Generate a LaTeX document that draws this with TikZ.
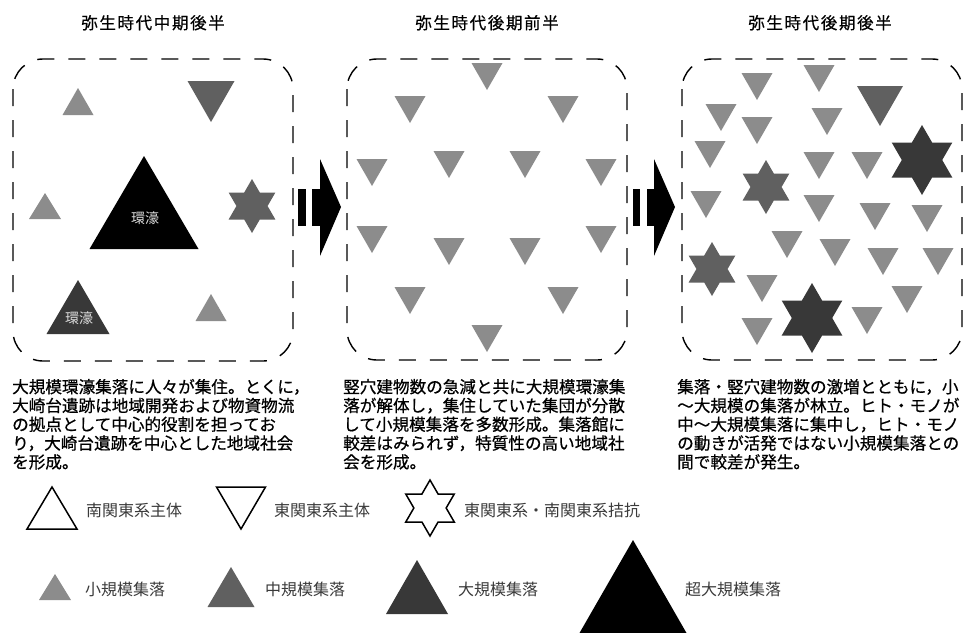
\documentclass[tikz,border=0pt]{standalone}
\usepackage{fontspec}
\newfontfamily\jp{Noto Sans CJK JP}
\newfontfamily\jpb[FakeBold=0.6]{Noto Sans CJK JP}
\newfontfamily\jpt[LetterSpace=10,FakeBold=0.5]{Noto Sans CJK JP}
\definecolor{lg}{HTML}{8C8C8C}
\definecolor{mg}{HTML}{606060}
\definecolor{dg}{HTML}{383838}
\definecolor{lt}{HTML}{3A3A3A}
\definecolor{wt}{HTML}{DDDDDD}
% up triangle: apex x, apex y, width, height, style
\newcommand\upTri[5]{\path[#5] ({#1-#3/2},{#2+#4}) -- ({#1},{#2}) -- ({#1+#3/2},{#2+#4}) -- cycle;}
% down triangle: center x, top y, width, height, style
\newcommand\dnTri[5]{\path[#5] ({#1-#3/2},{#2}) -- ({#1+#3/2},{#2}) -- ({#1},{#2+#4}) -- cycle;}
% six-pointed star: center x, center y, outer radius, style
\newcommand\hexStar[4]{\path[#4] ({#1},{#2-#3}) -- ({#1+0.2887*#3},{#2-0.5*#3}) -- ({#1+0.8660*#3},{#2-0.5*#3}) -- ({#1+0.5774*#3},{#2}) -- ({#1+0.8660*#3},{#2+0.5*#3}) -- ({#1+0.2887*#3},{#2+0.5*#3}) -- ({#1},{#2+#3}) -- ({#1-0.2887*#3},{#2+0.5*#3}) -- ({#1-0.8660*#3},{#2+0.5*#3}) -- ({#1-0.5774*#3},{#2}) -- ({#1-0.8660*#3},{#2-0.5*#3}) -- ({#1-0.2887*#3},{#2-0.5*#3}) -- cycle;}
\begin{document}
\begin{tikzpicture}[x=1pt,y=-1pt,
  small/.style={fill=lg},
  medium/.style={fill=mg},
  large/.style={fill=dg},
  huge/.style={fill=black},
  outl/.style={draw=black,fill=white,line width=1.5pt,line join=miter},
  panel/.style={draw=black,line width=1.4pt,dash pattern=on 17pt off 14pt,rounded corners=30pt},
  ttl/.style={font=\jpt\fontsize{16.5}{18}\selectfont,anchor=base,inner sep=0pt},
  para/.style={font=\jpb\fontsize{16.6}{18.8}\selectfont,anchor=base west,inner sep=0pt},
  leg/.style={font=\jp\fontsize{16}{18}\selectfont,text=lt,anchor=base west,inner sep=0pt},
  moat/.style={font=\jp\fontsize{14}{16}\selectfont,text=wt,anchor=base,inner sep=0pt},
  arr/.style={fill=black}]
\useasboundingbox (0,0) rectangle (968,632);
\fill[white] (0,0) rectangle (968,632);

% titles
\node[ttl] (t1) at (153,29) {弥生時代中期後半};
\node[ttl] (t2) at (487,29) {弥生時代後期前半};
\node[ttl] (t3) at (820,29) {弥生時代後期後半};

% panels
\draw[panel] (13,59) rectangle (293,361);
\draw[panel] (347,59) rectangle (627,360);
\draw[panel] (682,59) rectangle (962,360);

% arrows
\fill[arr] (298,189) rectangle (306,226);
\fill[arr] (312,189) rectangle (320,226);
\fill[arr] (320,159) -- (341,207) -- (320,256) -- cycle;
\fill[arr] (633,189) rectangle (640,226);
\fill[arr] (647,189) rectangle (654,226);
\fill[arr] (654,159) -- (675,207) -- (654,256) -- cycle;

% panel 1
\upTri{78}{88}{31}{27}{small}
\dnTri{211}{81}{47}{41}{medium}
\upTri{144}{156}{109}{93}{huge}
\upTri{45}{193}{32}{26}{small}
\upTri{78}{280}{63}{54}{large}
\upTri{211}{294}{31}{27}{small}
\hexStar{252}{206}{27}{medium}
\node[moat] (m1) at (145,223) {環濠};
\node[moat] (m2) at (79,323) {環濠};

% panel 2
\foreach \x/\y in {487/63,410/96,563/96,372/159,449/151,525/151,601/159,372/226,449/238,525/238,601/226,410/287,563/287,487/325}
  {\dnTri{\x}{\y}{31}{27}{small}}

% panel 3
\foreach \x/\y in {757/73,819/65,721/104,757/117,827/108,710/141,819/152,867/152,706/191,819/195,875/203,927/205,787/231,835/239,883/248,938/248,762/275,907/286,867/307,757/318}
  {\dnTri{\x}{\y}{31}{27}{small}}
\dnTri{880}{86}{46}{40}{medium}
\hexStar{922}{160}{35}{large}
\hexStar{766}{187}{27}{medium}
\hexStar{712}{269}{27}{medium}
\hexStar{812}{318}{35}{large}

% paragraphs
\node[para] (a1) at (12,393) {大規模環濠集落に人々が集住。とくに，};
\node[para] (a2) at (12,411.8) {大崎台遺跡は地域開発および物資物流};
\node[para] (a3) at (12,430.6) {の拠点として中心的役割を担ってお};
\node[para] (a4) at (12,449.4) {り，大崎台遺跡を中心とした地域社会};
\node[para] (a5) at (12,468.2) {を形成。};

\node[para] (b1) at (343,393) {竪穴建物数の急減と共に大規模環濠集};
\node[para] (b2) at (343,411.8) {落が解体し，集住していた集団が分散};
\node[para] (b3) at (343,430.6) {して小規模集落を多数形成。集落館に};
\node[para] (b4) at (343,449.4) {較差はみられず，特質性の高い地域社};
\node[para] (b5) at (343,468.2) {会を形成。};

\node[para] (c1) at (677,393) {集落・竪穴建物数の激増とともに，小};
\node[para] (c2) at (677,411.8) {～大規模の集落が林立。ヒト・モノが};
\node[para] (c3) at (677,430.6) {中～大規模集落に集中し，ヒト・モノ};
\node[para] (c4) at (677,449.4) {の動きが活発ではない小規模集落との};
\node[para] (c5) at (677,468.2) {間で較差が発生。};

% legend row 1
\upTri{52}{487}{50}{42}{outl}
\dnTri{241}{487}{49}{42}{outl}
\hexStar{430}{508}{28}{outl}
\node[leg] (l1) at (86,516) {南関東系主体};
\node[leg] (l2) at (274,516) {東関東系主体};
\node[leg] (l3) at (464,516) {東関東系・南関東系拮抗};

% legend row 2
\upTri{55}{574}{32}{26}{small}
\upTri{231}{567}{47}{40}{medium}
\upTri{417}{560}{62}{54}{large}
\upTri{633}{540}{107}{93}{huge}
\node[leg] (l4) at (85,595) {小規模集落};
\node[leg] (l5) at (265,595) {中規模集落};
\node[leg] (l6) at (458,595) {大規模集落};
\node[leg] (l7) at (685,595) {超大規模集落};
\end{tikzpicture}
\end{document}
